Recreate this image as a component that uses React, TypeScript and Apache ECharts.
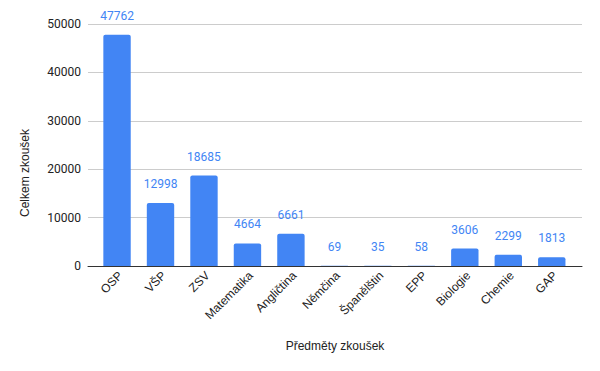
import React, { useEffect, useRef } from "react";
import * as echarts from "echarts";

const categories = ["OSP", "VŠP", "ZSV", "Matematika", "Angličtina", "Němčina", "Španělštin", "EPP", "Biologie", "Chemie", "GAP"];
const values = [47762, 12998, 18685, 4664, 6661, 69, 35, 58, 3606, 2299, 1813];
const yMin = 0;
const yMax = 50000;
const yInterval = 10000;
const yTitle = "Celkem zkoušek";
const xTitle = "Předměty zkoušek";

const ROBOTO = "Roboto, 'Noto Sans', Arial, sans-serif";
const ARIAL = "'Liberation Sans', Arial, sans-serif";

export default function App() {
  const ref = useRef<HTMLDivElement>(null);
  useEffect(() => {
    if (!ref.current) return;
    const chart = echarts.init(ref.current, undefined, { renderer: "svg" });
    chart.setOption({
      animation: false,
      backgroundColor: "#ffffff",
      textStyle: { fontFamily: ROBOTO },
      grid: [
        { left: 88, right: 18, top: 24, bottom: 105 },
        { left: 95.3, right: 26.5, top: 24, bottom: 105 },
      ],
      xAxis: [
        {
          type: "value",
          gridIndex: 0,
          min: 0,
          max: 1,
          axisLine: { show: true, onZero: false, lineStyle: { color: "#333333", width: 1 } },
          axisTick: { show: false },
          axisLabel: { show: false },
          splitLine: { show: false },
        },
        {
          type: "category",
          gridIndex: 1,
          data: categories,
          axisLine: { show: false },
          axisTick: { show: false },
          axisLabel: {
            rotate: 45,
            margin: 11,
            interval: 0,
            color: "#222222",
            fontSize: 12,
            fontFamily: ARIAL,
            padding: [0, -5, 0, 0],
          },
        },
      ],
      yAxis: [
        {
          type: "value",
          gridIndex: 0,
          min: yMin,
          max: yMax,
          interval: yInterval,
          axisLine: { show: false },
          axisTick: { show: false },
          axisLabel: {
            color: "#222222",
            fontSize: 12,
            margin: 7,
            fontFamily: ROBOTO,
            formatter: (v: number) => String(v),
          },
          splitLine: { show: true, lineStyle: { color: "#cccccc", width: 1 } },
        },
        {
          type: "value",
          gridIndex: 1,
          min: yMin,
          max: yMax,
          interval: yInterval,
          show: false,
          splitLine: { show: false },
        },
      ],
      series: [
        {
          type: "bar",
          xAxisIndex: 1,
          yAxisIndex: 1,
          data: values,
          barWidth: "63%",
          itemStyle: { color: "#4285F4", borderRadius: [2, 2, 0, 0] },
          label: {
            show: true,
            position: "top",
            distance: 13,
            color: "#4285F4",
            fontSize: 12,
            fontFamily: ROBOTO,
          },
        },
      ],
      graphic: [
        {
          type: "text",
          x: 25,
          y: 173,
          rotation: Math.PI / 2,
          style: {
            text: yTitle,
            fill: "#222222",
            font: `12px ${ARIAL}`,
            textAlign: "center",
            textVerticalAlign: "middle",
          },
        },
        {
          type: "text",
          x: 335,
          y: 346,
          style: {
            text: xTitle,
            fill: "#222222",
            font: `12px ${ARIAL}`,
            textAlign: "center",
            textVerticalAlign: "middle",
          },
        },
      ],
    });
    return () => chart.dispose();
  }, []);
  return <div ref={ref} style={{ width: 600, height: 371, position: "absolute", left: 0, top: 0 }} />;
}
